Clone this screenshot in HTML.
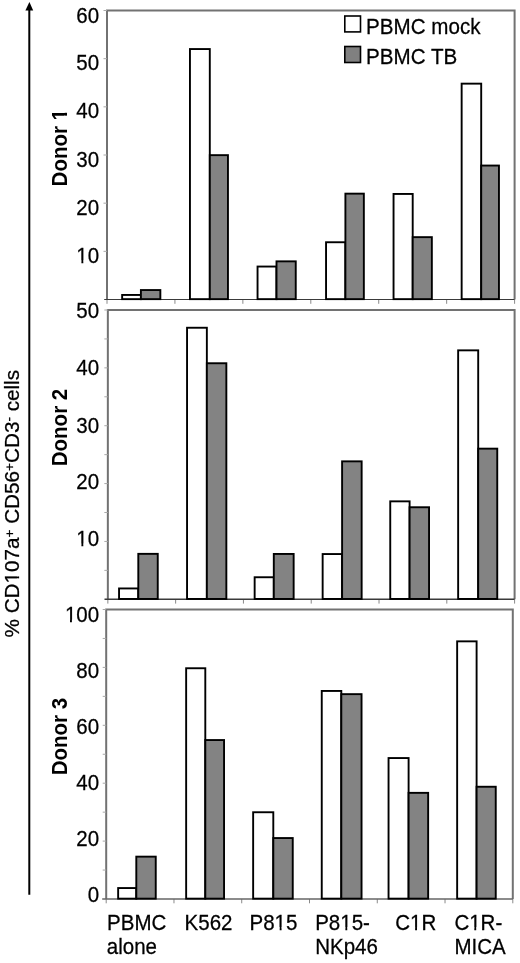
<!DOCTYPE html>
<html><head><meta charset="utf-8"><style>
html,body{margin:0;padding:0;background:#fff;}
svg{display:block;}
text{font-family:"Liberation Sans", Arial, sans-serif;fill:#000;}
.t{font-size:20.5px;stroke:#000;stroke-width:0.25px;}
.lg{font-size:20.6px;stroke:#000;stroke-width:0.25px;}
.d{font-size:20.5px;font-weight:bold;}
.yt{font-size:20.5px;stroke:#000;stroke-width:0.25px;}
</style></head><body>
<svg width="520" height="963" viewBox="0 0 520 963">
<rect width="520" height="963" fill="#fff"/>
<path d="M107.00,299.50V10.50H514.60V299.50" fill="none" stroke="#727272" stroke-width="2"/>
<line x1="107.00" y1="299.50" x2="107.00" y2="303.80" stroke="#8a8a8a" stroke-width="1"/>
<line x1="174.93" y1="299.50" x2="174.93" y2="303.80" stroke="#8a8a8a" stroke-width="1"/>
<line x1="242.87" y1="299.50" x2="242.87" y2="303.80" stroke="#8a8a8a" stroke-width="1"/>
<line x1="310.80" y1="299.50" x2="310.80" y2="303.80" stroke="#8a8a8a" stroke-width="1"/>
<line x1="378.73" y1="299.50" x2="378.73" y2="303.80" stroke="#8a8a8a" stroke-width="1"/>
<line x1="446.67" y1="299.50" x2="446.67" y2="303.80" stroke="#8a8a8a" stroke-width="1"/>
<line x1="514.60" y1="299.50" x2="514.60" y2="303.80" stroke="#8a8a8a" stroke-width="1"/>
<line x1="103.50" y1="251.33" x2="107.00" y2="251.33" stroke="#a8a8a8" stroke-width="1"/>
<line x1="103.50" y1="203.17" x2="107.00" y2="203.17" stroke="#a8a8a8" stroke-width="1"/>
<line x1="103.50" y1="155.00" x2="107.00" y2="155.00" stroke="#a8a8a8" stroke-width="1"/>
<line x1="103.50" y1="106.83" x2="107.00" y2="106.83" stroke="#a8a8a8" stroke-width="1"/>
<line x1="103.50" y1="58.67" x2="107.00" y2="58.67" stroke="#a8a8a8" stroke-width="1"/>
<line x1="103.50" y1="10.50" x2="107.00" y2="10.50" stroke="#a8a8a8" stroke-width="1"/>
<line x1="104.20" y1="299.50" x2="514.60" y2="299.50" stroke="#3a3a3a" stroke-width="1.2"/>
<rect x="122.15" y="294.95" width="18.75" height="4.20" fill="#ffffff" stroke="#000" stroke-width="1.9"/>
<rect x="140.90" y="290.05" width="19.45" height="9.10" fill="#838383" stroke="#000" stroke-width="1.9"/>
<rect x="189.95" y="49.05" width="19.85" height="250.10" fill="#ffffff" stroke="#000" stroke-width="1.9"/>
<rect x="209.80" y="155.15" width="18.15" height="144.00" fill="#838383" stroke="#000" stroke-width="1.9"/>
<rect x="257.55" y="266.55" width="18.95" height="32.60" fill="#ffffff" stroke="#000" stroke-width="1.9"/>
<rect x="276.50" y="261.35" width="19.25" height="37.80" fill="#838383" stroke="#000" stroke-width="1.9"/>
<rect x="326.05" y="242.25" width="19.35" height="56.90" fill="#ffffff" stroke="#000" stroke-width="1.9"/>
<rect x="345.40" y="193.65" width="18.45" height="105.50" fill="#838383" stroke="#000" stroke-width="1.9"/>
<rect x="393.55" y="193.95" width="19.15" height="105.20" fill="#ffffff" stroke="#000" stroke-width="1.9"/>
<rect x="412.70" y="237.15" width="19.15" height="62.00" fill="#838383" stroke="#000" stroke-width="1.9"/>
<rect x="461.65" y="83.65" width="19.55" height="215.50" fill="#ffffff" stroke="#000" stroke-width="1.9"/>
<rect x="481.20" y="165.55" width="17.75" height="133.60" fill="#838383" stroke="#000" stroke-width="1.9"/>
<text class="t" transform="translate(99.10,22.70) scale(1.0,1.035)" text-anchor="end">60</text>
<text class="t" transform="translate(99.10,70.45) scale(1.0,1.035)" text-anchor="end">50</text>
<text class="t" transform="translate(99.10,117.70) scale(1.0,1.035)" text-anchor="end">40</text>
<text class="t" transform="translate(99.10,166.70) scale(1.0,1.035)" text-anchor="end">30</text>
<text class="t" transform="translate(99.10,214.60) scale(1.0,1.035)" text-anchor="end">20</text>
<text class="t" transform="translate(99.10,262.80) scale(1.0,1.035)" text-anchor="end">10</text>
<text class="d" transform="translate(67.0,186.4) rotate(-90) scale(1,1.054)">Donor 1</text>
<path d="M107.85,599.30V310.00H514.60V599.30" fill="none" stroke="#727272" stroke-width="2"/>
<line x1="107.85" y1="599.30" x2="107.85" y2="603.60" stroke="#8a8a8a" stroke-width="1"/>
<line x1="175.64" y1="599.30" x2="175.64" y2="603.60" stroke="#8a8a8a" stroke-width="1"/>
<line x1="243.43" y1="599.30" x2="243.43" y2="603.60" stroke="#8a8a8a" stroke-width="1"/>
<line x1="311.23" y1="599.30" x2="311.23" y2="603.60" stroke="#8a8a8a" stroke-width="1"/>
<line x1="379.02" y1="599.30" x2="379.02" y2="603.60" stroke="#8a8a8a" stroke-width="1"/>
<line x1="446.81" y1="599.30" x2="446.81" y2="603.60" stroke="#8a8a8a" stroke-width="1"/>
<line x1="514.60" y1="599.30" x2="514.60" y2="603.60" stroke="#8a8a8a" stroke-width="1"/>
<line x1="104.35" y1="570.37" x2="107.85" y2="570.37" stroke="#a8a8a8" stroke-width="1"/>
<line x1="104.35" y1="541.44" x2="107.85" y2="541.44" stroke="#a8a8a8" stroke-width="1"/>
<line x1="104.35" y1="512.51" x2="107.85" y2="512.51" stroke="#a8a8a8" stroke-width="1"/>
<line x1="104.35" y1="483.58" x2="107.85" y2="483.58" stroke="#a8a8a8" stroke-width="1"/>
<line x1="104.35" y1="454.65" x2="107.85" y2="454.65" stroke="#a8a8a8" stroke-width="1"/>
<line x1="104.35" y1="425.72" x2="107.85" y2="425.72" stroke="#a8a8a8" stroke-width="1"/>
<line x1="104.35" y1="396.79" x2="107.85" y2="396.79" stroke="#a8a8a8" stroke-width="1"/>
<line x1="104.35" y1="367.86" x2="107.85" y2="367.86" stroke="#a8a8a8" stroke-width="1"/>
<line x1="104.35" y1="338.93" x2="107.85" y2="338.93" stroke="#a8a8a8" stroke-width="1"/>
<line x1="104.35" y1="310.00" x2="107.85" y2="310.00" stroke="#a8a8a8" stroke-width="1"/>
<line x1="104.50" y1="599.30" x2="514.60" y2="599.30" stroke="#3a3a3a" stroke-width="1.4"/>
<rect x="119.05" y="588.45" width="19.25" height="10.50" fill="#ffffff" stroke="#000" stroke-width="1.9"/>
<rect x="138.30" y="553.85" width="19.45" height="45.10" fill="#838383" stroke="#000" stroke-width="1.9"/>
<rect x="187.05" y="327.75" width="19.80" height="271.20" fill="#ffffff" stroke="#000" stroke-width="1.9"/>
<rect x="206.85" y="363.25" width="19.50" height="235.70" fill="#838383" stroke="#000" stroke-width="1.9"/>
<rect x="254.65" y="577.25" width="19.15" height="21.70" fill="#ffffff" stroke="#000" stroke-width="1.9"/>
<rect x="273.80" y="553.95" width="19.85" height="45.00" fill="#838383" stroke="#000" stroke-width="1.9"/>
<rect x="322.65" y="554.05" width="19.45" height="44.90" fill="#ffffff" stroke="#000" stroke-width="1.9"/>
<rect x="342.10" y="461.35" width="19.55" height="137.60" fill="#838383" stroke="#000" stroke-width="1.9"/>
<rect x="390.25" y="501.35" width="19.35" height="97.60" fill="#ffffff" stroke="#000" stroke-width="1.9"/>
<rect x="409.60" y="507.25" width="19.45" height="91.70" fill="#838383" stroke="#000" stroke-width="1.9"/>
<rect x="458.15" y="350.35" width="20.05" height="248.60" fill="#ffffff" stroke="#000" stroke-width="1.9"/>
<rect x="478.20" y="448.65" width="19.05" height="150.30" fill="#838383" stroke="#000" stroke-width="1.9"/>
<text class="t" transform="translate(99.10,318.45) scale(1.0,1.035)" text-anchor="end">50</text>
<text class="t" transform="translate(99.10,375.30) scale(1.0,1.035)" text-anchor="end">40</text>
<text class="t" transform="translate(99.10,432.60) scale(1.0,1.035)" text-anchor="end">30</text>
<text class="t" transform="translate(99.10,489.00) scale(1.0,1.035)" text-anchor="end">20</text>
<text class="t" transform="translate(99.10,546.00) scale(1.0,1.035)" text-anchor="end">10</text>
<text class="d" transform="translate(67.0,466.2) rotate(-90) scale(1,1.054)">Donor 2</text>
<path d="M106.20,899.00V609.50H512.80V899.00" fill="none" stroke="#727272" stroke-width="2"/>
<line x1="106.20" y1="899.00" x2="106.20" y2="903.30" stroke="#8a8a8a" stroke-width="1"/>
<line x1="173.97" y1="899.00" x2="173.97" y2="903.30" stroke="#8a8a8a" stroke-width="1"/>
<line x1="241.73" y1="899.00" x2="241.73" y2="903.30" stroke="#8a8a8a" stroke-width="1"/>
<line x1="309.50" y1="899.00" x2="309.50" y2="903.30" stroke="#8a8a8a" stroke-width="1"/>
<line x1="377.27" y1="899.00" x2="377.27" y2="903.30" stroke="#8a8a8a" stroke-width="1"/>
<line x1="445.03" y1="899.00" x2="445.03" y2="903.30" stroke="#8a8a8a" stroke-width="1"/>
<line x1="512.80" y1="899.00" x2="512.80" y2="903.30" stroke="#8a8a8a" stroke-width="1"/>
<line x1="102.70" y1="870.05" x2="106.20" y2="870.05" stroke="#a8a8a8" stroke-width="1"/>
<line x1="102.70" y1="841.10" x2="106.20" y2="841.10" stroke="#a8a8a8" stroke-width="1"/>
<line x1="102.70" y1="812.15" x2="106.20" y2="812.15" stroke="#a8a8a8" stroke-width="1"/>
<line x1="102.70" y1="783.20" x2="106.20" y2="783.20" stroke="#a8a8a8" stroke-width="1"/>
<line x1="102.70" y1="754.25" x2="106.20" y2="754.25" stroke="#a8a8a8" stroke-width="1"/>
<line x1="102.70" y1="725.30" x2="106.20" y2="725.30" stroke="#a8a8a8" stroke-width="1"/>
<line x1="102.70" y1="696.35" x2="106.20" y2="696.35" stroke="#a8a8a8" stroke-width="1"/>
<line x1="102.70" y1="667.40" x2="106.20" y2="667.40" stroke="#a8a8a8" stroke-width="1"/>
<line x1="102.70" y1="638.45" x2="106.20" y2="638.45" stroke="#a8a8a8" stroke-width="1"/>
<line x1="102.70" y1="609.50" x2="106.20" y2="609.50" stroke="#a8a8a8" stroke-width="1"/>
<line x1="102.20" y1="899.00" x2="512.80" y2="899.00" stroke="#666666" stroke-width="1.5"/>
<rect x="118.15" y="888.05" width="18.15" height="10.60" fill="#ffffff" stroke="#000" stroke-width="1.9"/>
<rect x="136.30" y="856.65" width="19.45" height="42.00" fill="#838383" stroke="#000" stroke-width="1.9"/>
<rect x="186.15" y="668.25" width="19.15" height="230.40" fill="#ffffff" stroke="#000" stroke-width="1.9"/>
<rect x="205.30" y="740.05" width="18.75" height="158.60" fill="#838383" stroke="#000" stroke-width="1.9"/>
<rect x="253.15" y="812.25" width="20.15" height="86.40" fill="#ffffff" stroke="#000" stroke-width="1.9"/>
<rect x="273.30" y="838.05" width="19.45" height="60.60" fill="#838383" stroke="#000" stroke-width="1.9"/>
<rect x="321.75" y="690.95" width="19.55" height="207.70" fill="#ffffff" stroke="#000" stroke-width="1.9"/>
<rect x="341.30" y="694.15" width="20.25" height="204.50" fill="#838383" stroke="#000" stroke-width="1.9"/>
<rect x="388.55" y="758.05" width="20.05" height="140.60" fill="#ffffff" stroke="#000" stroke-width="1.9"/>
<rect x="408.60" y="792.85" width="19.55" height="105.80" fill="#838383" stroke="#000" stroke-width="1.9"/>
<rect x="457.15" y="641.35" width="19.45" height="257.30" fill="#ffffff" stroke="#000" stroke-width="1.9"/>
<rect x="476.60" y="786.75" width="19.15" height="111.90" fill="#838383" stroke="#000" stroke-width="1.9"/>
<text class="t" transform="translate(99.10,622.00) scale(1.0,1.035)" text-anchor="end">100</text>
<text class="t" transform="translate(99.10,678.00) scale(1.0,1.035)" text-anchor="end">80</text>
<text class="t" transform="translate(99.10,734.20) scale(1.0,1.035)" text-anchor="end">60</text>
<text class="t" transform="translate(99.10,789.60) scale(1.0,1.035)" text-anchor="end">40</text>
<text class="t" transform="translate(99.10,845.70) scale(1.0,1.035)" text-anchor="end">20</text>
<text class="t" transform="translate(99.10,901.70) scale(1.0,1.035)" text-anchor="end">0</text>
<text class="d" transform="translate(67.0,775.3) rotate(-90) scale(1,1.054)">Donor 3</text>
<rect x="344.8" y="16.0" width="15.7" height="15.9" fill="#fff" stroke="#000" stroke-width="1.6"/>
<rect x="344.8" y="46.5" width="15.7" height="16.0" fill="#808080" stroke="#000" stroke-width="1.6"/>
<text class="lg" transform="translate(366.10,33.90) scale(1.0,1.03)">PBMC mock</text>
<text class="lg" transform="translate(366.10,63.60) scale(1.0,1.03)">PBMC TB</text>
<text class="t" transform="translate(107.10,929.60) scale(1.0,1.035)">PBMC</text>
<text class="t" transform="translate(106.80,954.20) scale(1.0,1.035)">alone</text>
<text class="t" transform="translate(184.60,929.60) scale(1.0,1.035)">K562</text>
<text class="t" transform="translate(249.50,929.60) scale(1.0,1.035)">P815</text>
<text class="t" transform="translate(315.20,929.60) scale(1.0,1.035)">P815-</text>
<text class="t" transform="translate(315.20,954.20) scale(1.0,1.035)">NKp46</text>
<text class="t" transform="translate(395.20,929.60) scale(1.0,1.035)">C1R</text>
<text class="t" transform="translate(454.40,929.60) scale(1.0,1.035)">C1R-</text>
<text class="t" transform="translate(454.50,954.20) scale(1.0,1.035)">MICA</text>
<line x1="29.3" y1="9" x2="29.3" y2="894.8" stroke="#000" stroke-width="2"/>
<path d="M29.4,2 L33.2,10.6 L25.4,10.6 Z" fill="#000"/>
<text class="yt" transform="translate(19.2,637.5) rotate(-90) scale(1.0095,1)">% CD107a<tspan dy="-5.5" font-size="13.5">+</tspan><tspan dy="5.5"> CD56</tspan><tspan dy="-5.5" font-size="13.5">+</tspan><tspan dy="5.5">CD3</tspan><tspan dy="-6.3" font-size="13.5">-</tspan><tspan dy="6.3"> cells</tspan></text>
<rect transform="translate(99.10,262.80) scale(1.0,1.035)" x="-22.70" y="-2.25" width="5.01" height="3.85" fill="#fff"/>
<rect transform="translate(99.10,262.80) scale(1.0,1.035)" x="-15.79" y="-2.25" width="4.50" height="3.85" fill="#fff"/>
<rect transform="translate(67.0,186.4) rotate(-90) scale(1,1.054)" x="66.19" y="-2.85" width="4.56" height="4.45" fill="#fff"/>
<rect transform="translate(67.0,186.4) rotate(-90) scale(1,1.054)" x="73.61" y="-2.85" width="3.78" height="4.45" fill="#fff"/>
<rect transform="translate(99.10,546.00) scale(1.0,1.035)" x="-22.70" y="-2.25" width="5.01" height="3.85" fill="#fff"/>
<rect transform="translate(99.10,546.00) scale(1.0,1.035)" x="-15.79" y="-2.25" width="4.50" height="3.85" fill="#fff"/>
<rect transform="translate(99.10,622.00) scale(1.0,1.035)" x="-34.11" y="-2.25" width="5.01" height="3.85" fill="#fff"/>
<rect transform="translate(99.10,622.00) scale(1.0,1.035)" x="-27.20" y="-2.25" width="4.50" height="3.85" fill="#fff"/>
<rect transform="translate(249.50,929.60) scale(1.0,1.035)" x="25.16" y="-2.25" width="5.01" height="3.85" fill="#fff"/>
<rect transform="translate(249.50,929.60) scale(1.0,1.035)" x="32.06" y="-2.25" width="4.50" height="3.85" fill="#fff"/>
<rect transform="translate(315.20,929.60) scale(1.0,1.035)" x="25.16" y="-2.25" width="5.01" height="3.85" fill="#fff"/>
<rect transform="translate(315.20,929.60) scale(1.0,1.035)" x="32.06" y="-2.25" width="4.50" height="3.85" fill="#fff"/>
<rect transform="translate(395.20,929.60) scale(1.0,1.035)" x="14.90" y="-2.25" width="5.01" height="3.85" fill="#fff"/>
<rect transform="translate(395.20,929.60) scale(1.0,1.035)" x="21.81" y="-2.25" width="4.50" height="3.85" fill="#fff"/>
<rect transform="translate(454.40,929.60) scale(1.0,1.035)" x="14.90" y="-2.25" width="5.01" height="3.85" fill="#fff"/>
<rect transform="translate(454.40,929.60) scale(1.0,1.035)" x="21.81" y="-2.25" width="4.50" height="3.85" fill="#fff"/>
<rect transform="translate(19.2,637.5) rotate(-90) scale(1.0095,1)" x="53.58" y="-2.25" width="5.01" height="3.85" fill="#fff"/>
<rect transform="translate(19.2,637.5) rotate(-90) scale(1.0095,1)" x="60.49" y="-2.25" width="4.50" height="3.85" fill="#fff"/>
</svg>
</body></html>
